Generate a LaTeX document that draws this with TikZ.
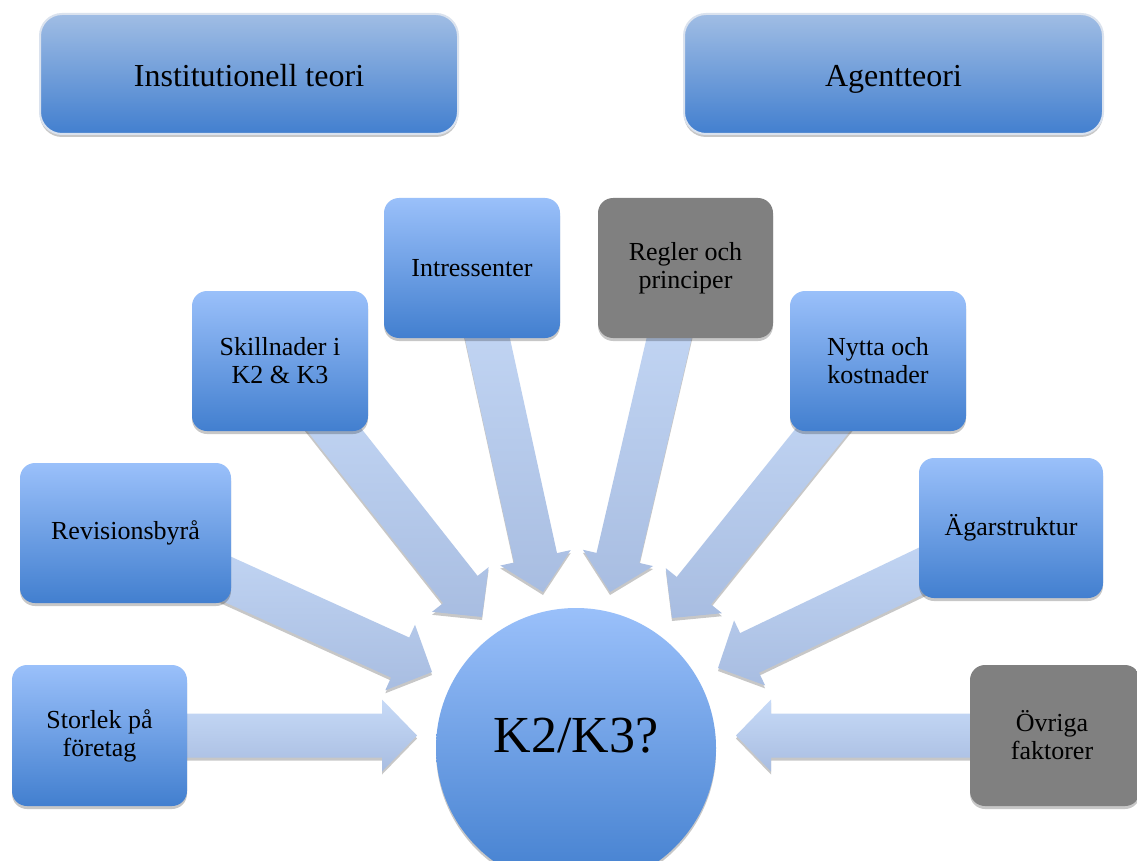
\documentclass[tikz,border=0pt]{standalone}
\usepackage{fontspec}
\setmainfont{Liberation Serif}
\usetikzlibrary{calc,shadows}
\pgfdeclarelayer{back}
\pgfdeclarelayer{bg}
\pgfsetlayers{back,bg,main}
\definecolor{boxtop}{RGB}{154,192,250}
\definecolor{boxbot}{RGB}{66,127,207}
\definecolor{toptop}{RGB}{160,189,228}
\definecolor{toprim}{RGB}{218,226,238}
\definecolor{arrtop}{RGB}{199,218,247}
\definecolor{arrbot}{RGB}{168,189,225}
\definecolor{grayfill}{RGB}{128,128,128}
\tikzset{
  shad/.style={drop shadow={shadow xshift=0pt,shadow yshift=-3pt,opacity=0.22,fill=black}},
  topbox/.style={rectangle,rounded corners=22pt,top color=toptop,bottom color=boxbot,
    draw=toprim,line width=2pt,shad,minimum width=418pt,minimum height=120pt,inner sep=0pt,
    text height=30pt,text depth=5pt,
    font=\fontsize{32}{36}\selectfont},
  smallbox/.style={rectangle,rounded corners=15pt,top color=boxtop,bottom color=boxbot,
    shad,minimum height=140pt,inner sep=0pt,align=center,
    font=\fontsize{26}{28}\selectfont},
  graybox/.style={smallbox,top color=grayfill,bottom color=grayfill},
  hub/.style={circle,top color=boxtop,bottom color=boxbot,shad,minimum size=280pt,inner sep=0pt},
  arr/.style={top color=arrtop,bottom color=arrbot,shad}
}
\newcommand\blockarrow[2]{%
  \path ($(#2)!35pt!(#1.center)$) coordinate (hb);
  \shade[arr] (#2) -- ($(hb)!36pt!90:(#1.center)$) -- ($(hb)!22pt!90:(#1.center)$)
    -- ($(#1.center)!22pt!-90:(hb)$) -- ($(#1.center)!22pt!90:(hb)$)
    -- ($(hb)!22pt!-90:(#1.center)$) -- ($(hb)!36pt!-90:(#1.center)$) -- cycle;
}
\begin{document}
\begin{tikzpicture}[x=1pt,y=-1pt]
\clip (0,0) rectangle (1137,861);
\begin{pgfonlayer}{back}
\fill[white] (0,0) rectangle (1137,861);
\end{pgfonlayer}
% top boxes
\node[topbox] (inst) at (249,74) {Institutionell teori};
\node[topbox,minimum width=419pt] (agent) at (893.5,74) {Agentteori};
% factor boxes
\node[smallbox,minimum width=176pt] (intr) at (472,268) {Intressenter};
\node[graybox,minimum width=175pt] (regl) at (685.5,268) {Regler och\\principer};
\node[smallbox,minimum width=176pt] (skil) at (280,361) {Skillnader i\\K2 \& K3};
\node[smallbox,minimum width=176pt] (nytt) at (878,361) {Nytta och\\kostnader};
\node[smallbox,minimum width=211pt] (revi) at (125.5,533) {Revisionsbyrå};
\node[smallbox,minimum width=184pt] (agar) at (1011,528) {Ägarstruktur};
\node[smallbox,minimum width=175pt,minimum height=141pt] (stor) at (99.5,735.5) {Storlek på\\företag};
\node[graybox,minimum width=170pt,minimum height=141pt] (ovri) at (1055,735.5) {\hspace*{-6pt}Övriga\\\hspace*{-6pt}faktorer};
% hub
\node[hub] (k) at (576,748) {};
\node[font=\fontsize{52}{56}\selectfont,inner sep=0pt] (klabel) at (576,736) {K2/K3?};
% arrow tips
\coordinate (t1) at (417,735.5);
\coordinate (t2) at (432,672);
\coordinate (t3) at (482,617);
\coordinate (t4) at (543,592);
\coordinate (t5) at (610,592);
\coordinate (t6) at (672,618);
\coordinate (t7) at (718,668);
\coordinate (t8) at (736,735.5);
\begin{pgfonlayer}{bg}
\blockarrow{stor}{t1}
\blockarrow{revi}{t2}
\blockarrow{skil}{t3}
\blockarrow{intr}{t4}
\blockarrow{regl}{t5}
\blockarrow{nytt}{t6}
\blockarrow{agar}{t7}
\blockarrow{ovri}{t8}
\end{pgfonlayer}
\end{tikzpicture}
\end{document}
